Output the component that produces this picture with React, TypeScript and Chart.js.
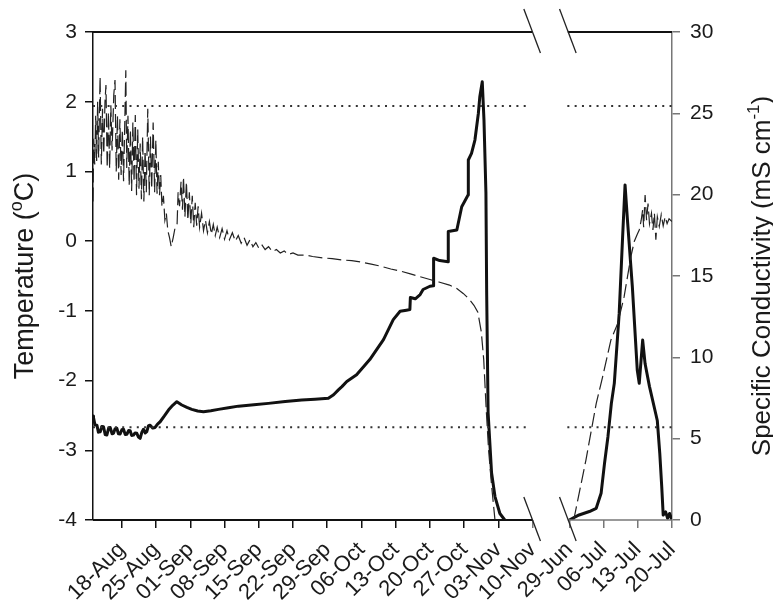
import React, { useEffect, useRef } from "react";
import { Chart, registerables } from "chart.js";

Chart.register(...registerables);

// ---- axis layout (virtual day index: 0 = 18-Aug, second season shifted after the break)
const X_MIN = -5.9;
const X_MAX = 112.5;
const BREAK_START = 83.9;
const BREAK_END = 91.2;

const TICK_POSITIONS = [0, 7, 14, 21, 28, 35, 42, 49, 56, 63, 70, 77, 84, 91.5, 98.5, 105.5, 112.5];
const TICK_LABELS = [
  "18-Aug", "25-Aug", "01-Sep", "08-Sep", "15-Sep", "22-Sep", "29-Sep", "06-Oct",
  "13-Oct", "20-Oct", "27-Oct", "03-Nov", "10-Nov", "29-Jun", "06-Jul", "13-Jul", "20-Jul",
];

// ---- Temperature (left axis, °C), autumn segment [day, value]
const TEMP_AUTUMN: [number, number][] = [
  [-5.9, 0.57], [-5.75, 1.47], [-5.55, 1.1], [-5.35, 1.8], [-5.15, 1.15], [-4.95, 2.0],
  [-4.75, 1.2], [-4.45, 2.36], [-4.2, 1.1], [-3.95, 1.9], [-3.7, 1.25], [-3.45, 2.0],
  [-3.25, 2.24], [-3.0, 1.05], [-2.75, 1.85], [-2.5, 1.04], [-2.25, 1.95], [-2.0, 1.3],
  [-1.65, 2.1], [-1.4, 2.31], [-1.15, 1.0], [-0.9, 1.8], [-0.65, 0.88], [-0.4, 1.75],
  [-0.15, 0.95], [0.1, 1.6], [0.35, 0.86], [0.6, 1.7], [0.81, 2.45], [1.0, 1.05],
  [1.25, 1.8], [1.5, 0.8], [1.75, 1.6], [2.0, 0.72], [2.25, 1.7], [2.5, 0.85],
  [2.75, 1.81], [3.0, 0.66], [3.25, 1.6], [3.5, 0.75], [3.75, 1.4], [4.0, 0.6],
  [4.25, 1.5], [4.5, 0.57], [4.75, 1.3], [5.0, 0.7], [5.3, 1.9], [5.6, 0.66],
  [5.85, 1.5], [6.1, 0.75], [6.4, 1.7], [6.7, 0.7], [6.95, 1.45], [7.2, 0.68],
  [7.45, 1.14], [7.7, 0.66], [7.95, 0.95], [8.2, 0.5], [8.5, 0.65], [8.8, 0.3],
  [9.1, 0.4], [9.4, 0.15], [9.75, 0.05], [10.1, -0.08], [10.5, 0.05], [10.9, 0.2],
  [11.3, 0.25], [11.5, 0.7], [11.8, 0.5], [12.1, 0.85], [12.4, 0.45], [12.6, 0.92],
  [12.9, 0.35], [13.2, 0.85], [13.5, 0.3], [13.8, 0.7], [14.1, 0.25], [14.4, 0.65],
  [14.7, 0.2], [15.0, 0.55], [15.3, 0.22], [15.6, 0.5], [15.9, 0.2], [16.3, 0.4],
  [16.7, 0.15], [17.1, 0.3], [17.5, 0.12], [17.9, 0.28], [18.3, 0.1], [18.7, 0.24],
  [19.1, 0.08], [19.5, 0.2], [20.0, 0.05], [20.5, 0.18], [21.0, 0.03], [21.5, 0.15],
  [22.0, 0.02], [22.6, 0.12], [23.2, 0.0], [23.8, 0.08], [24.4, -0.03], [25.0, 0.05],
  [25.6, -0.06], [26.2, 0.02], [26.8, -0.08], [27.4, -0.02], [28.0, -0.1], [28.6, -0.05],
  [29.3, -0.12], [30.0, -0.08], [30.8, -0.15], [31.6, -0.12], [32.4, -0.17], [33.2, -0.14],
  [34.0, -0.19], [35.0, -0.17], [36.0, -0.2], [37.5, -0.2], [39.0, -0.22], [41.0, -0.24],
  [43.0, -0.25], [45.0, -0.27], [47.0, -0.28], [49.0, -0.3], [51.0, -0.33], [53.0, -0.36],
  [55.0, -0.4], [57.0, -0.43], [59.0, -0.47], [61.0, -0.51], [63.0, -0.55], [65.0, -0.59],
  [67.0, -0.63], [68.5, -0.68], [69.8, -0.75], [71.0, -0.83], [72.0, -0.92], [72.8, -1.02],
  [73.5, -1.3], [74.0, -1.7], [74.5, -2.4], [75.0, -3.0], [75.6, -3.5], [76.3, -4.0],
];

// ---- Temperature, summer segment
const TEMP_SUMMER: [number, number][] = [
  [92.4, -4.0], [94.9, -3.14], [97.0, -2.33], [98.3, -1.95], [100.0, -1.42], [101.4, -1.18],
  [102.7, -0.8], [103.4, -0.51], [104.1, -0.22], [104.8, 0.0], [105.4, 0.1], [105.8, 0.16],
  [106.2, 0.3], [106.5, 0.45], [106.7, 0.2], [107.0, 0.66], [107.3, 0.3], [107.6, 0.54],
  [107.9, 0.25], [108.3, 0.4], [108.6, 0.16], [108.9, 0.4], [109.2, 0.02], [109.5, 0.35],
  [109.9, 0.21], [110.3, 0.38], [110.7, 0.22], [111.1, 0.35], [111.5, 0.25], [111.9, 0.32],
  [112.5, 0.28],
];

// ---- Specific conductivity (right axis, mS cm-1), autumn segment
const COND_AUTUMN: [number, number][] = [
  [-5.9, 6.4], [-5.8, 6.3], [-5.5, 5.85], [-5.1, 5.83], [-4.8, 5.4], [-4.4, 5.43],
  [-4.1, 5.75], [-3.75, 5.73], [-3.4, 5.25], [-3.07, 5.22], [-2.7, 5.65], [-2.39, 5.69],
  [-2.0, 5.3], [-1.71, 5.33], [-1.4, 5.6], [-1.03, 5.64], [-0.7, 5.3], [-0.35, 5.29],
  [0.0, 5.55], [0.34, 5.58], [0.7, 5.25], [1.02, 5.27], [1.4, 5.5], [1.7, 5.49],
  [2.0, 5.2], [2.38, 5.22], [2.7, 5.35], [3.06, 5.33], [3.4, 5.1], [3.74, 5.02],
  [4.1, 5.4], [4.42, 5.58], [4.8, 5.35], [5.1, 5.43], [5.45, 5.8], [5.78, 5.83],
  [6.3, 5.65], [6.8, 5.69], [7.3, 5.9], [7.83, 6.04], [8.7, 6.4], [9.53, 6.76],
  [10.4, 7.05], [11.24, 7.27], [12.26, 7.07], [13.3, 6.92], [14.3, 6.8], [15.5, 6.7],
  [16.69, 6.66], [18.2, 6.72], [19.75, 6.8], [21.8, 6.9], [23.84, 7.0], [27.0, 7.08],
  [29.97, 7.17], [33.4, 7.28], [36.78, 7.38], [39.5, 7.43], [42.23, 7.48], [43.3, 7.7],
  [44.28, 8.0], [45.0, 8.2], [46.0, 8.52], [48.0, 8.93], [50.7, 9.86], [53.5, 11.09],
  [55.5, 12.32], [56.9, 12.83], [58.2, 12.9], [58.9, 12.94], [59.0, 13.68], [60.0, 13.6],
  [61.0, 13.86], [61.6, 14.17], [63.0, 14.37], [63.7, 14.4], [63.75, 16.09], [65.0, 15.95],
  [66.7, 15.88], [66.75, 17.73], [68.5, 17.83], [69.5, 19.26], [70.8, 19.98], [70.85, 22.13],
  [71.5, 22.54], [72.2, 23.36], [72.9, 24.99], [73.2, 26.02], [73.7, 26.94], [74.05, 24.6],
  [74.45, 20.1], [74.6, 14.0], [74.9, 6.57], [75.6, 2.9], [76.3, 1.44], [77.3, 0.4],
  [78.3, 0.0],
];

// ---- Specific conductivity, summer segment
const COND_SUMMER: [number, number][] = [
  [91.5, 0.0], [93.5, 0.31], [95.6, 0.52], [97.0, 0.72], [98.0, 1.64], [98.7, 3.48],
  [99.4, 5.12], [100.1, 7.17], [100.7, 8.4], [101.7, 12.7], [102.4, 17.4], [102.9, 20.6],
  [103.4, 18.4], [104.4, 14.3], [105.4, 9.2], [105.8, 8.4], [106.5, 11.06], [107.0, 9.6],
  [107.9, 8.2], [109.2, 6.5], [109.5, 6.1], [110.0, 4.1], [110.4, 2.05], [110.7, 0.3],
  [111.2, 0.5], [111.6, 0.1], [112.0, 0.4], [112.5, 0.0],
];

// ---- Dotted reference levels (left axis, °C)
const REF_LEVELS = [1.94, -2.67];
const REF_SPANS: [number, number][] = [[X_MIN, 83.5], [91.1, X_MAX]];

const FONT = "'Liberation Sans', Arial, Helvetica, sans-serif";

type Piece = { t: string; sup?: boolean };

function drawRotatedTitle(ctx: CanvasRenderingContext2D, pieces: Piece[], baseX: number, cy: number, size: number) {
  const supSize = Math.round(size * 0.65);
  ctx.save();
  ctx.translate(baseX, cy);
  ctx.rotate(-Math.PI / 2);
  ctx.fillStyle = "#1a1a1a";
  ctx.textBaseline = "alphabetic";
  ctx.textAlign = "left";
  let total = 0;
  for (const p of pieces) {
    ctx.font = `${p.sup ? supSize : size}px ${FONT}`;
    total += ctx.measureText(p.t).width;
  }
  let x = -total / 2;
  for (const p of pieces) {
    ctx.font = `${p.sup ? supSize : size}px ${FONT}`;
    ctx.fillText(p.t, x, p.sup ? -size * 0.42 : 0);
    x += ctx.measureText(p.t).width;
  }
  ctx.restore();
}

const framePlugin = {
  id: "frame",
  afterDraw(chart: any) {
    const { ctx, chartArea } = chart;
    const { left, right, top, bottom } = chartArea;
    const xs = chart.scales.x;
    const b1 = xs.getPixelForValue(BREAK_START);
    const b2 = xs.getPixelForValue(BREAK_END);
    ctx.save();
    const seg = (x1: number, y1: number, x2: number, y2: number, color: string, w: number) => {
      ctx.beginPath();
      ctx.strokeStyle = color;
      ctx.lineWidth = w;
      ctx.moveTo(x1, y1);
      ctx.lineTo(x2, y2);
      ctx.stroke();
    };
    seg(left, top, b1, top, "#111", 2);
    seg(b2, top, right, top, "#111", 2);
    seg(left, bottom, b1, bottom, "#111", 2);
    seg(b2, bottom, right, bottom, "#777", 1.5);
    for (const bx of [b1, b2]) {
      for (const y of [top, bottom]) {
        seg(bx - 8.3, y - 23, bx + 8.3, y + 21, "#222", 1.3);
      }
    }
    ctx.restore();
    drawRotatedTitle(ctx, [{ t: "Temperature (" }, { t: "o", sup: true }, { t: "C)" }], 33, (top + bottom) / 2, 27);
    drawRotatedTitle(
      ctx,
      [{ t: "Specific Conductivity (mS cm" }, { t: "-1", sup: true }, { t: ")" }],
      770,
      (top + bottom) / 2,
      26
    );
  },
};

const toPts = (arr: [number, number][]) => arr.map(([x, y]) => ({ x, y }));

export default function App() {
  const ref = useRef<HTMLCanvasElement | null>(null);
  useEffect(() => {
    document.body.style.margin = "0";
    const canvas = ref.current;
    if (!canvas) return;

    const tempStyle = {
      yAxisID: "y",
      borderColor: "#222",
      borderWidth: 1.2,
      borderDash: [14, 5],
      pointRadius: 0,
      tension: 0,
      fill: false,
    };
    const condStyle = {
      yAxisID: "y1",
      borderColor: "#111",
      borderWidth: 3,
      pointRadius: 0,
      tension: 0,
      fill: false,
      borderJoinStyle: "round" as const,
    };
    const refSets: any[] = [];
    REF_LEVELS.forEach((lvl) => {
      REF_SPANS.forEach(([a, b]) => {
        refSets.push({
          data: [{ x: a, y: lvl }, { x: b, y: lvl }],
          yAxisID: "y",
          borderColor: "#333",
          borderWidth: 2,
          borderDash: [2, 5.3],
          pointRadius: 0,
          fill: false,
        });
      });
    });

    const chart = new Chart(canvas, {
      type: "line",
      data: {
        datasets: [
          ...refSets,
          { ...tempStyle, data: toPts(TEMP_AUTUMN) },
          { ...tempStyle, data: toPts(TEMP_SUMMER) },
          { ...condStyle, data: toPts(COND_AUTUMN) },
          { ...condStyle, data: toPts(COND_SUMMER) },
        ],
      },
      options: {
        animation: false,
        responsive: false,
        devicePixelRatio: 1,
        layout: { padding: { top: 32, left: 0, right: 0, bottom: 0 } },
        plugins: { legend: { display: false }, tooltip: { enabled: false } },
        scales: {
          x: {
            type: "linear",
            position: "bottom",
            min: X_MIN,
            max: X_MAX,
            border: { display: false },
            grid: {
              drawOnChartArea: false,
              drawTicks: true,
              tickLength: 8,
              lineWidth: 1.5,
              color: (c: any) => (c.tick && c.tick.value > BREAK_START ? "#777" : "#111"),
            },
            afterBuildTicks: (scale: any) => {
              scale.ticks = TICK_POSITIONS.map((v) => ({ value: v }));
            },
            afterFit: (scale: any) => {
              scale.height = 89;
            },
            ticks: {
              autoSkip: false,
              maxRotation: 45,
              minRotation: 45,
              padding: 9,
              color: "#1a1a1a",
              font: { family: FONT, size: 22 },
              callback: (_v: any, i: number) => TICK_LABELS[i],
            },
          },
          y: {
            type: "linear",
            position: "left",
            min: -4,
            max: 3,
            border: { display: true, color: "#111", width: 1.5 },
            grid: { drawOnChartArea: false, drawTicks: true, tickLength: 8, color: "#111", lineWidth: 1.5 },
            afterFit: (scale: any) => {
              scale.width = 93;
            },
            ticks: {
              stepSize: 1,
              padding: 8,
              color: "#1a1a1a",
              font: { family: FONT, size: 21 },
            },
          },
          y1: {
            type: "linear",
            position: "right",
            min: 0,
            max: 30,
            border: { display: true, color: "#777", width: 1.5 },
            grid: { drawOnChartArea: false, drawTicks: true, tickLength: 8, color: "#777", lineWidth: 1.5 },
            afterFit: (scale: any) => {
              scale.width = 101;
            },
            ticks: {
              stepSize: 5,
              padding: 10,
              color: "#1a1a1a",
              font: { family: FONT, size: 21 },
            },
          },
        },
      },
      plugins: [framePlugin],
    } as any);
    return () => chart.destroy();
  }, []);

  return <canvas ref={ref} width={773} height={609} style={{ display: "block", width: 773, height: 609 }} />;
}
